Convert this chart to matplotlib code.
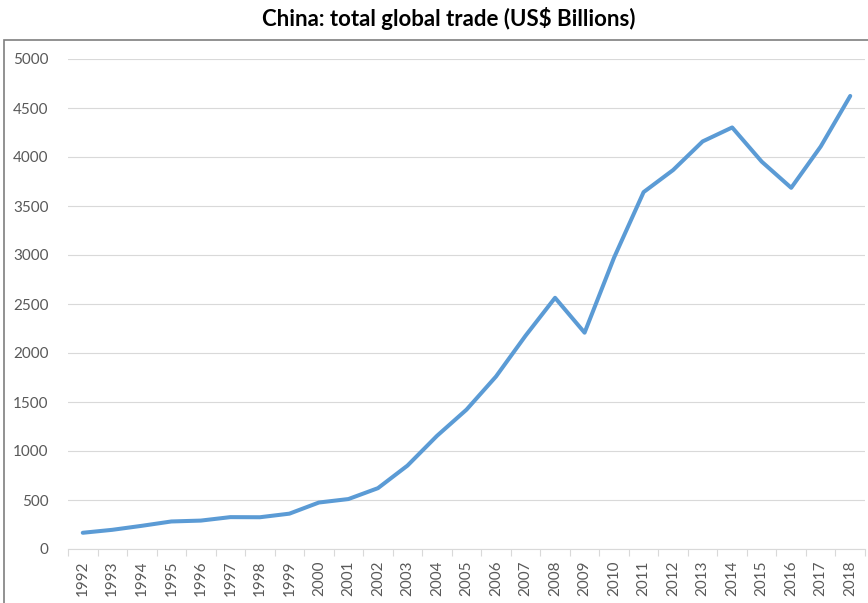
import matplotlib
matplotlib.use("Agg")
import matplotlib.pyplot as plt
from matplotlib.patches import Rectangle
import numpy as np

years = [str(y) for y in range(1992, 2019)]
trade = [165.5, 195.7, 236.6, 280.9, 289.9, 325.2, 324.0, 360.6, 474.3, 509.7,
         620.8, 851.0, 1154.6, 1421.9, 1760.4, 2176.2, 2563.3, 2207.5, 2974.0,
         3641.9, 3867.1, 4159.0, 4301.5, 3953.0, 3685.6, 4107.1, 4623.0]
yticks = [0, 500, 1000, 1500, 2000, 2500, 3000, 3500, 4000, 4500, 5000]
title = "China: total global trade (US$ Billions)"

plt.rcParams['font.family'] = ['Lato', 'DejaVu Sans']
W, H = 868, 603
fig = plt.figure(figsize=(W / 100, H / 100), dpi=100)

# chart border
fig.patches.append(Rectangle((4 / W, -0.1), 1.1, 1 - 40 / H + 0.1, transform=fig.transFigure,
                             fill=False, edgecolor='#7f7f7f', linewidth=1.2, clip_on=False))

ax = fig.add_axes([68 / W, 1 - 549 / H, (865 - 68) / W, (549 - 59) / H])
x = np.arange(len(years))
ax.plot(x, trade, color='#5B9BD5', linewidth=2.9, solid_joinstyle='round', solid_capstyle='round')

ax.set_xlim(-0.5, len(years) - 0.5)
ax.set_ylim(0, 5000)
ax.set_yticks(yticks)
ax.set_yticklabels([str(v) for v in yticks])
ax.grid(axis='y', color='#D9D9D9', linewidth=0.8)
ax.set_axisbelow(True)
for s in ['top', 'right', 'left']:
    ax.spines[s].set_visible(False)
ax.spines['bottom'].set_color('#D9D9D9')
ax.spines['bottom'].set_linewidth(0.8)

ax.set_xticks(x)
ax.set_xticklabels(years, rotation=90)
ax.set_xticks(np.arange(-0.5, len(years)), minor=True)
ax.tick_params(axis='x', which='major', length=0, pad=8, labelsize=11, labelcolor='#595959')
ax.tick_params(axis='x', which='minor', length=5, color='#D9D9D9', width=0.8)
ax.tick_params(axis='y', length=0, pad=14, labelsize=11, labelcolor='#595959')

fig.text(449 / W, 1 - 18 / H, title, ha='center', va='center', fontsize=16,
         fontweight='bold', color='black')

fig.savefig('out.png', dpi=100)
